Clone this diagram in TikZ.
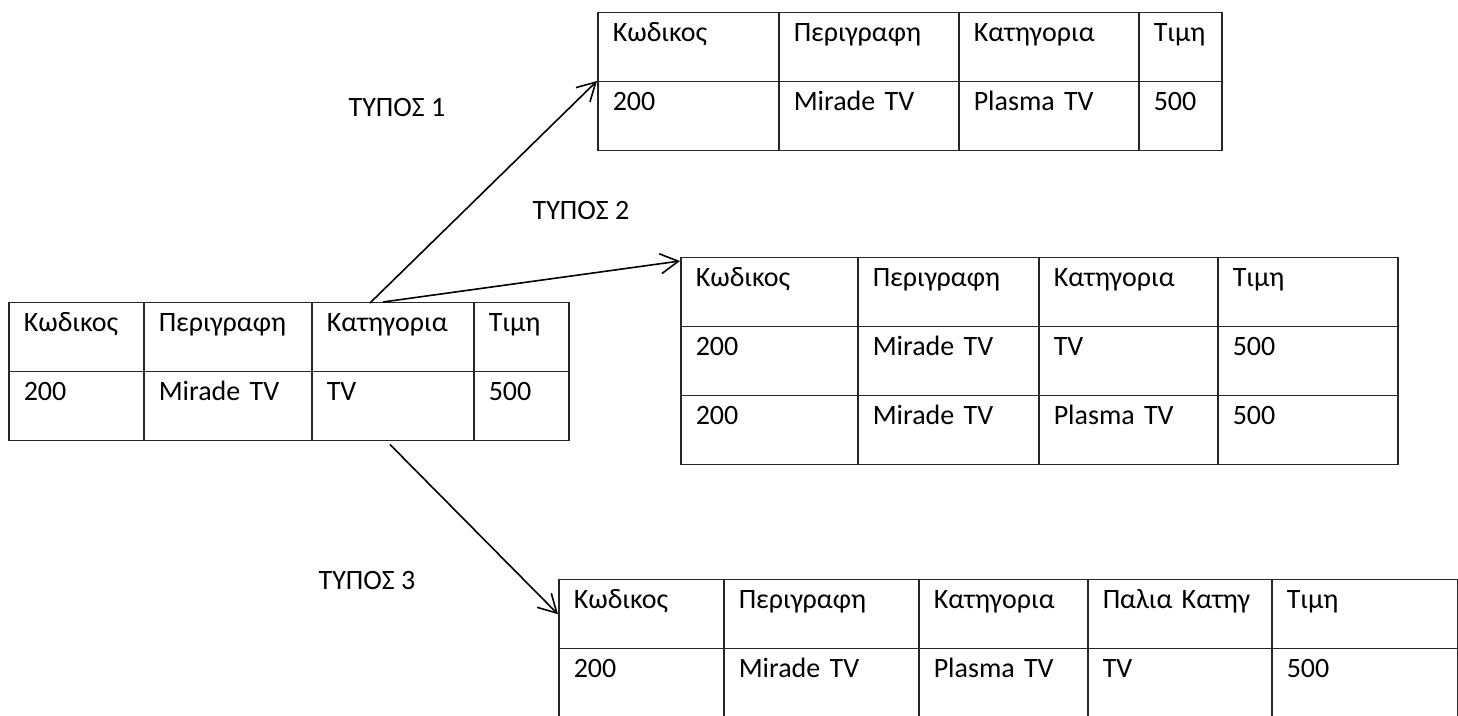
\documentclass[tikz,border=0pt]{standalone}
\usepackage{fontspec}
\setmainfont{Carlito}
\usetikzlibrary{arrows.meta,positioning}

\begin{document}
\begin{tikzpicture}[x=0.5pt,y=-0.5pt]
	\tikzset{
	  cell/.style={draw=black!85,line width=0.75pt,anchor=north west,
	    inner xsep=7.5pt,inner ysep=0pt,text width=#1,align=left,
	    text height=14.5pt,text depth=20pt,font=\fontsize{14}{16}\selectfont},
	  tag/.style={inner sep=0pt,font=\fontsize{14}{16}\selectfont},
	  arr/.style={line width=0.8pt,-{Straight Barb[length=9pt,width=10pt,line width=0.8pt]}}
	}
	\useasboundingbox (0,0) rectangle (1458,716);

	%SOURCE TABLE
	\foreach \x/\w/\head/\val [count=\i] in {8/135/Κωδικος/200,143/168/Περιγραφη/Mirade TV,
	    311/162/Κατηγορια/TV,473/95/Τιμη/500}{
	  \pgfmathsetmacro\tw{\w/2-15}
	  \node[cell=\tw pt] (t0h\i) at (\x,302) {\head};
	  \node[cell=\tw pt] (t0d\i) at (\x,371) {\val};
	}

	%TABLE TYPE 1
	\foreach \x/\w/\head/\val [count=\i] in {597/181/Κωδικος/200,778/180/Περιγραφη/Mirade TV,
	    958/180/Κατηγορια/Plasma TV,1138/83/Τιμη/500}{
	  \pgfmathsetmacro\tw{\w/2-15}
	  \node[cell=\tw pt] (t1h\i) at (\x,12) {\head};
	  \node[cell=\tw pt] (t1d\i) at (\x,81) {\val};
	}

	%TABLE TYPE 2
	\foreach \x/\w/\head/\val/\new [count=\i] in {680/177/Κωδικος/200/200,857/181/Περιγραφη/Mirade TV/Mirade TV,
	    1038/179/Κατηγορια/TV/Plasma TV,1217/180/Τιμη/500/500}{
	  \pgfmathsetmacro\tw{\w/2-15}
	  \node[cell=\tw pt] (t2h\i) at (\x,257) {\head};
	  \node[cell=\tw pt] (t2d\i) at (\x,326) {\val};
	  \node[cell=\tw pt] (t2n\i) at (\x,395) {\new};
	}

	%TABLE TYPE 3
	\foreach \x/\w/\head/\val [count=\i] in {558/165/Κωδικος/200,723/195/Περιγραφη/Mirade TV,
	    918/169/Κατηγορια/Plasma TV,1087/184/Παλια Κατηγ/TV,1271/186/Τιμη/500}{
	  \pgfmathsetmacro\tw{\w/2-15}
	  \node[cell=\tw pt] (t3h\i) at (\x,579) {\head};
	  \node[cell=\tw pt] (t3d\i) at (\x,648) {\val};
	}

	%LABELS
	\node[tag] (lbl1) at (397,108) {ΤΥΠΟΣ 1};
	\node[tag] (lbl2) at (581,211) {ΤΥΠΟΣ 2};
	\node[tag] (lbl3) at (367,581) {ΤΥΠΟΣ 3};

	%ARROWS
	\coordinate (s1) at ([xshift=29.5pt,yshift=-0.5pt]t0h3.north west);
	\coordinate (s2) at ([xshift=36pt]t0h3.north west);
	\coordinate (s3) at ([xshift=39.5pt,yshift=-1.5pt]t0d3.south west);
	\draw[arr] (s1) -- (t1d1.north west);
	\draw[arr] (s2) -- ([yshift=-2pt]t2h1.north west);
	\draw[arr] (s3) -- (t3h1.west);
\end{tikzpicture}
\end{document}
